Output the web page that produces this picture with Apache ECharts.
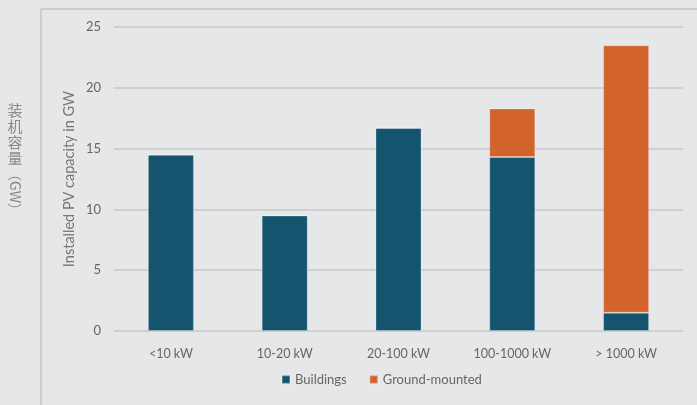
<!DOCTYPE html>
<html>
<head>
<meta charset="utf-8">
<script src="https://cdn.jsdelivr.net/npm/echarts@6/dist/echarts.min.js"></script>
<style>
  html, body { margin: 0; padding: 0; background: #e6e7e8; }
  #chart { width: 697px; height: 405px; }
</style>
</head>
<body>
<div id="chart"></div>
<script>
const categories = ["<10 kW", "10-20 kW", "20-100 kW", "100-1000 kW", "> 1000 kW"];
const buildings = [14.5, 9.5, 16.7, 14.3, 1.5];
const groundMounted = [0, 0, 0, 4.0, 22.0];
const yTicks = [0, 5, 10, 15, 20, 25];
const cnChars = ["装", "机", "容", "量"];

const chart = echarts.init(document.getElementById("chart"));

// vertical Chinese title, one character per element
const cnTitle = cnChars.map((ch, i) => ({
  type: "text",
  x: 15,
  y: 110 + i * 16,
  style: {
    text: ch,
    fontSize: 15,
    fill: "#8a8a8a",
    align: "center",
    verticalAlign: "middle",
    fontFamily: "Noto Sans CJK SC",
  },
}));

const option = {
  animation: false,
  backgroundColor: "#e6e7e8",
  textStyle: { fontFamily: "Lato" },
  grid: { left: 114, right: 14, top: 27, bottom: 74 },
  legend: {
    bottom: 14,
    left: 276,
    itemWidth: 8,
    itemHeight: 8,
    itemGap: 22,
    icon: "rect",
    textStyle: { color: "#666", fontSize: 13, fontFamily: "Lato" },
    data: ["Buildings", "Ground-mounted"],
  },
  graphic: [
    {
      type: "line",
      shape: { x1: 41, y1: 9, x2: 697, y2: 9 },
      style: { stroke: "#c4c5c6", lineWidth: 1.5 },
    },
    {
      type: "line",
      shape: { x1: 41, y1: 9, x2: 41, y2: 405 },
      style: { stroke: "#c4c5c6", lineWidth: 1.5 },
    },
    ...cnTitle,
    {
      type: "text",
      x: 15,
      y: 192,
      rotation: -Math.PI / 2,
      style: {
        text: "（GW）",
        fontSize: 14,
        fill: "#8a8a8a",
        align: "center",
        verticalAlign: "middle",
        fontFamily: "Noto Sans CJK SC",
      },
    },
  ],
  xAxis: {
    type: "category",
    data: categories,
    axisLine: { show: false },
    axisTick: { show: false },
    axisLabel: { color: "#666", fontSize: 12.5, margin: 16, fontFamily: "Lato" },
  },
  yAxis: {
    type: "value",
    min: 0,
    max: 25,
    interval: 5,
    name: "Installed PV capacity in GW",
    nameLocation: "middle",
    nameGap: 37,
    nameMoveOverlap: false,
    nameTextStyle: { color: "#777", fontSize: 14.5, fontFamily: "Lato" },
    axisLabel: {
      color: "#666",
      fontSize: 13,
      margin: 13,
      fontFamily: "Lato",
      formatter: (v) => (yTicks.includes(v) ? String(v) : ""),
    },
    splitLine: { lineStyle: { color: "#c8c9ca", width: 1.5 } },
  },
  series: [
    {
      name: "Buildings",
      type: "bar",
      stack: "total",
      barWidth: 46,
      data: buildings,
      itemStyle: { color: "#14546f", borderColor: "rgba(255,255,255,0.25)", borderWidth: 1 },
    },
    {
      name: "Ground-mounted",
      type: "bar",
      stack: "total",
      barWidth: 46,
      data: groundMounted,
      itemStyle: { color: "#d2642b", borderColor: "rgba(255,255,255,0.25)", borderWidth: 1 },
    },
  ],
};

chart.setOption(option);
</script>
</body>
</html>
